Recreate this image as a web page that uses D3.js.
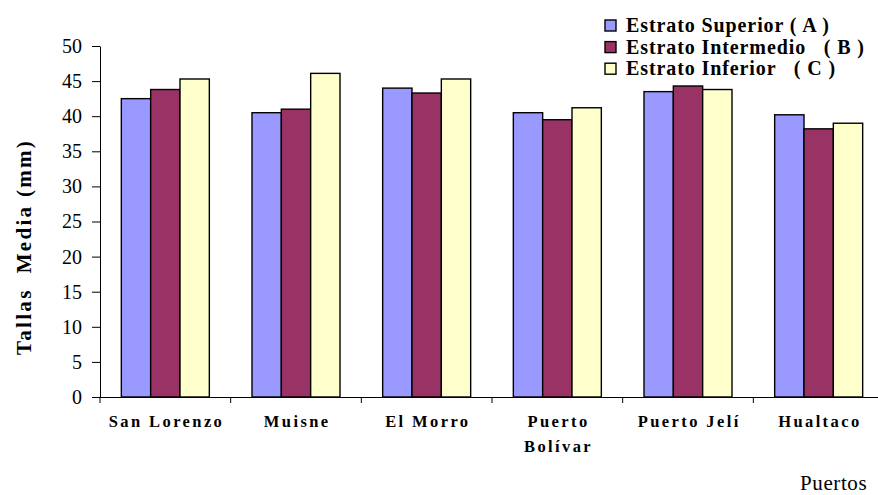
<!DOCTYPE html>
<html>
<head>
<meta charset="utf-8">
<script src="https://cdn.jsdelivr.net/npm/d3@7"></script>
<style>
  html, body { margin: 0; padding: 0; background: #fff; }
  svg { display: block; }
  svg text { font-family: "Liberation Serif", "Times New Roman", serif !important; fill: #000; }
</style>
</head>
<body>
<script>
// Mean sizes (mm) by port and stratum
const puertos = [["San Lorenzo"], ["Muisne"], ["El Morro"], ["Puerto", "Bolívar"], ["Puerto Jelí"], ["Hualtaco"]];
const estratos = ["Estrato Superior ( A )", "Estrato Intermedio   ( B )", "Estrato Inferior   ( C )"];
const superiorA   = [42.5, 40.5, 44.0, 40.5, 43.5, 40.2];
const intermedioB = [43.8, 41.0, 43.3, 39.5, 44.3, 38.2];
const inferiorC   = [45.3, 46.1, 45.3, 41.2, 43.8, 39.0];
const yTicks = [0, 5, 10, 15, 20, 25, 30, 35, 40, 45, 50];
const colores = ["#9999FF", "#993366", "#FFFFCC"];

const W = 878, H = 495;
const mLeft = 100, mRight = 884, mTop = 46, mBottom = 397;
const serif = "Liberation Serif";

const svg = d3.select("body").append("svg").attr("width", W).attr("height", H);

const cats = puertos.map(p => p.join(" "));
const series = [superiorA, intermedioB, inferiorC];

const x = d3.scaleBand().domain(cats).range([mLeft, mRight])
  .paddingInner(0.3265).paddingOuter(0.3265 / 2);
const xs = d3.scaleBand().domain(d3.range(3)).range([0, x.bandwidth()]);
const y = d3.scaleLinear().domain([0, 50]).range([mBottom, mTop]);

// Bars
const groups = svg.append("g").selectAll("g").data(cats).join("g")
  .attr("transform", d => `translate(${x(d)},0)`);
groups.selectAll("rect")
  .data((c, i) => series.map((s, k) => ({ k, v: s[i] })))
  .join("rect")
  .attr("x", d => xs(d.k))
  .attr("width", xs.bandwidth())
  .attr("y", d => y(d.v))
  .attr("height", d => y(0) - y(d.v))
  .attr("fill", d => colores[d.k])
  .attr("stroke", "#000")
  .attr("stroke-width", 1.4);

// Y axis
const yAxis = svg.append("g").attr("transform", `translate(${mLeft},0)`)
  .call(d3.axisLeft(y).tickValues(yTicks).tickSize(8).tickPadding(10).tickSizeOuter(0));
yAxis.attr("font-family", serif);
yAxis.select(".domain").attr("stroke", "#000");
yAxis.selectAll(".tick line").attr("stroke", "#000");
yAxis.selectAll("text").attr("font-size", 20).attr("font-family", serif).attr("fill", "#000");

// X axis line with ticks at category boundaries
const step = x.step();
const gapHalf = (step - x.bandwidth()) / 2;
svg.append("line").attr("x1", mLeft).attr("x2", W).attr("y1", mBottom + 0.5).attr("y2", mBottom + 0.5)
  .attr("stroke", "#000");
svg.append("g").selectAll("line").data(cats).join("line")
  .attr("x1", d => x(d) - gapHalf).attr("x2", d => x(d) - gapHalf)
  .attr("y1", mBottom).attr("y2", mBottom + 6).attr("stroke", "#000");

// Category labels
const xl = svg.append("g").selectAll("text").data(puertos).join("text")
  .attr("text-anchor", "middle")
  .attr("font-family", serif)
  .attr("font-weight", "bold")
  .attr("font-size", 16.5)
  .attr("letter-spacing", 2.4)
  .attr("x", (d, i) => x(cats[i]) + x.bandwidth() / 2 + 1.2)
  .attr("y", 427);
xl.selectAll("tspan").data(d => d).join("tspan")
  .attr("x", function () { return d3.select(this.parentNode).attr("x"); })
  .attr("dy", (d, i) => i === 0 ? 0 : 25)
  .text(d => d);

// Y axis title
svg.append("text")
  .attr("transform", "translate(31,247) rotate(-90)")
  .attr("text-anchor", "middle")
  .attr("font-family", serif)
  .attr("font-weight", "bold")
  .attr("font-size", 21)
  .attr("letter-spacing", 2.3)
  .style("white-space", "pre")
  .text("Tallas  Media (mm)");

// X axis title
svg.append("text")
  .attr("x", 800).attr("y", 490)
  .attr("font-family", serif)
  .attr("font-size", 21)
  .attr("letter-spacing", 0.6)
  .text("Puertos");

// Legend
const lg = svg.append("g").selectAll("g").data(estratos).join("g")
  .attr("transform", (d, i) => `translate(605,${25.5 + i * 21.6})`);
lg.append("rect").attr("x", 0).attr("y", -5.5).attr("width", 11).attr("height", 11)
  .attr("fill", (d, i) => colores[i]).attr("stroke", "#000").attr("stroke-width", 1.4);
lg.append("text").attr("x", 21).attr("y", 6.5)
  .attr("font-family", serif)
  .attr("font-weight", "bold").attr("font-size", 20)
  .attr("letter-spacing", 0.9)
  .style("white-space", "pre")
  .text(d => d);
</script>
</body>
</html>
